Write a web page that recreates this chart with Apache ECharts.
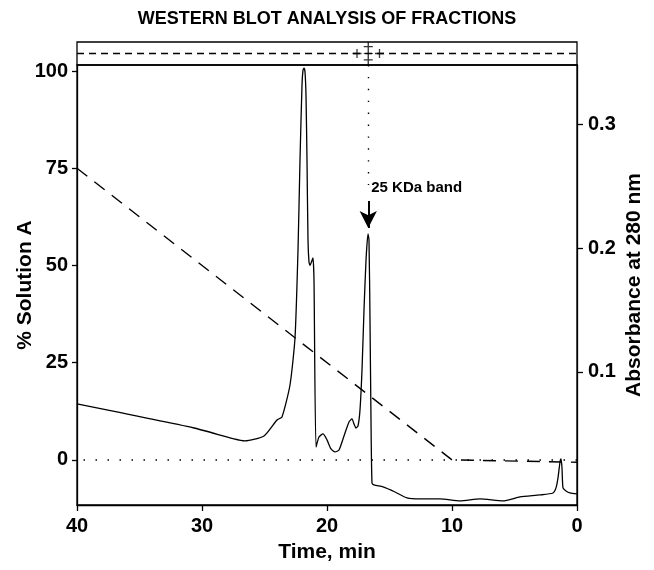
<!DOCTYPE html>
<html>
<head>
<meta charset="utf-8">
<script src="https://cdn.jsdelivr.net/npm/echarts@6/dist/echarts.min.js"></script>
<style>
  html, body { margin: 0; padding: 0; background: #fff; }
  #chart { width: 654px; height: 570px; }
</style>
</head>
<body>
<div id="chart"></div>
<script>
// absorbance trace (time in min, absorbance at 280 nm)
const absTime = [40, 30.64, 27.44, 26.56, 25.04, 24.0, 23.6, 22.96, 22.56, 22.32, 22.16, 22.0, 21.92, 21.84, 21.76, 21.68, 21.6, 21.52, 21.44, 21.36, 21.2, 21.12, 21.04, 20.88, 20.64, 20.32, 20.0, 19.68, 19.36, 19.04, 18.64, 18.24, 18.0, 17.84, 17.68, 17.52, 17.36, 17.2, 17.04, 16.88, 16.72, 16.64, 16.56, 16.48, 16.4, 16.24, 15.52, 14.56, 13.6, 12.56, 10.96, 9.36, 7.76, 5.92, 4.56, 2.96, 1.92, 1.68, 1.52, 1.36, 1.28, 1.2, 1.12, 0.88, 0.56, 0];
const absValue = [0.0742, 0.0548, 0.046, 0.0444, 0.0484, 0.0613, 0.0637, 0.0895, 0.1274, 0.198, 0.271, 0.3315, 0.3435, 0.345, 0.342, 0.323, 0.271, 0.2065, 0.1887, 0.186, 0.19, 0.192, 0.174, 0.0395, 0.0476, 0.05, 0.0452, 0.0379, 0.0355, 0.0371, 0.0484, 0.0597, 0.0621, 0.058, 0.0548, 0.0565, 0.0694, 0.1016, 0.15, 0.19, 0.2113, 0.2065, 0.142, 0.0613, 0.0105, 0.0089, 0.0073, 0.0032, -0.0016, -0.0024, -0.0024, -0.004, -0.0024, -0.004, -0.0008, 0.0008, 0.0024, 0.0065, 0.0145, 0.0274, 0.0298, 0.0226, 0.0065, 0.004, 0.0024, 0.0016];

// gradient (% Solution A)
const gradTime = [40, 10, 0];
const gradValue = [75, 0, -0.6];

// western blot strip
const positiveFractions = [17.6, 15.8];
const bandTime = 16.7;
const bandLabel = '25 KDa band';

// tick labels
const timeTicks = [0, 10, 20, 30, 40];
const solutionTicks = [0, 25, 50, 75, 100];
const absTicks = [0.1, 0.2, 0.3];

const FONT = "'Liberation Sans', Arial, Helvetica, sans-serif";
const black = '#000';

const chart = echarts.init(document.getElementById('chart'), null, {renderer: 'canvas'});

const tickText = {color: black, fontFamily: FONT, fontWeight: 'bold', fontSize: 20};
const nameText = {color: black, fontFamily: FONT, fontWeight: 'bold', fontSize: 21};

const option = {
    backgroundColor: '#fff',
    animation: false,
    title: {
        text: 'WESTERN BLOT ANALYSIS OF FRACTIONS',
        left: 'center',
        top: 5,
        textStyle: {color: black, fontFamily: FONT, fontWeight: 'bold', fontSize: 18}
    },
    grid: [
        {left: 77, right: 77, top: 65, bottom: 65, show: true, borderColor: black, borderWidth: 1.3, backgroundColor: 'transparent'},
        {left: 77, right: 77, top: 42, height: 23, show: true, borderColor: black, borderWidth: 1.3, backgroundColor: 'transparent'}
    ],
    xAxis: [
        {
            type: 'value', gridIndex: 0, min: 0, max: 40, interval: 10, inverse: true,
            name: 'Time, min', nameLocation: 'middle', nameGap: 37, nameMoveOverlap: false, nameTextStyle: nameText,
            axisLine: {show: true, onZero: false, lineStyle: {color: black, width: 1.3}},
            axisTick: {show: true, length: 6, lineStyle: {color: black, width: 1.3}},
            axisLabel: Object.assign({margin: 11, customValues: timeTicks}, tickText),
            splitLine: {show: false}
        },
        {
            type: 'value', gridIndex: 1, min: 0, max: 40, inverse: true, show: false
        }
    ],
    yAxis: [
        {
            type: 'value', gridIndex: 0, min: -11.6, max: 101.55, position: 'left',
            name: '% Solution A', nameLocation: 'middle', nameGap: 41, nameMoveOverlap: false, nameTextStyle: nameText,
            axisLine: {show: true, onZero: false, lineStyle: {color: black, width: 1.3}},
            axisTick: {show: true, length: 5, customValues: solutionTicks, lineStyle: {color: black, width: 1.3}},
            axisLabel: Object.assign({margin: 9, customValues: solutionTicks}, tickText),
            splitLine: {show: false}
        },
        {
            type: 'value', gridIndex: 0, min: -0.0073, max: 0.3476, position: 'right',
            name: 'Absorbance at 280 nm', nameLocation: 'middle', nameGap: 47, nameRotate: 90, nameMoveOverlap: false, nameTextStyle: nameText,
            axisLine: {show: true, onZero: false, lineStyle: {color: black, width: 1.3}},
            axisTick: {show: true, length: 6, customValues: absTicks, lineStyle: {color: black, width: 1.3}},
            axisLabel: Object.assign({margin: 11, customValues: absTicks, formatter: v => v.toFixed(1)}, tickText),
            splitLine: {show: false}
        },
        {
            type: 'value', gridIndex: 1, min: 0, max: 1, show: false
        }
    ],
    series: [
        {
            name: 'gradient',
            type: 'line',
            xAxisIndex: 0, yAxisIndex: 0,
            data: gradTime.map((t, i) => [t, gradValue[i]]),
            symbol: 'none',
            lineStyle: {color: black, width: 1.4, type: [13, 9]},
            markLine: {
                silent: true,
                symbol: ['none', 'none'],
                label: {show: false},
                lineStyle: {color: black, width: 1.5, type: [1.5, 10.5]},
                data: [{yAxis: 0}]
            },
            z: 3
        },
        {
            name: 'absorbance',
            type: 'line',
            xAxisIndex: 0, yAxisIndex: 1,
            data: absTime.map((t, i) => [t, absValue[i]]),
            symbol: 'none',
            smooth: 0.2,
            lineStyle: {color: black, width: 1.3},
            markLine: {
                silent: true,
                symbol: ['none', 'none'],
                label: {show: false},
                data: [
                    [
                        {coord: [bandTime, 0.3476], lineStyle: {color: black, width: 1.4, type: [1.4, 10.5]}},
                        {coord: [bandTime, 0.2508]}
                    ],
                    [
                        {coord: [bandTime, 0.2379], lineStyle: {color: black, width: 2, type: 'solid'}, symbol: 'none'},
                        {coord: [bandTime, 0.2161], symbol: 'arrow', symbolSize: [13, 17]}
                    ]
                ]
            },
            markPoint: {
                silent: true,
                data: [{
                    coord: [bandTime, 0.2484],
                    symbol: 'circle', symbolSize: 0,
                    label: {show: true, position: 'right', distance: 3, formatter: bandLabel,
                        color: black, fontFamily: FONT, fontWeight: 'bold', fontSize: 15}
                }]
            },
            z: 4
        },
        {
            name: 'blot negative',
            type: 'line',
            xAxisIndex: 1, yAxisIndex: 2,
            data: [[40, 0.5], [0, 0.5]],
            symbol: 'none',
            lineStyle: {color: black, width: 1.3, type: [7, 5]}
        },
        {
            name: 'blot positive',
            type: 'scatter',
            xAxisIndex: 1, yAxisIndex: 2,
            data: positiveFractions.map(t => [t, 0.5]),
            symbol: 'path://M0,4.3H10V5.7H0Z M4.3,0H5.7V10H4.3Z',
            symbolSize: 9,
            itemStyle: {color: black},
            z: 5
        },
        {
            name: 'blot band',
            type: 'scatter',
            xAxisIndex: 1, yAxisIndex: 2,
            data: [[bandTime, 0.5]],
            symbol: 'path://M4.4,0H5.6V23H4.4Z M1,4H9V5.2H1Z M1,10.9H9V12.1H1Z M1,17.3H9V18.5H1Z',
            symbolSize: [9, 23],
            symbolKeepAspect: false,
            itemStyle: {color: black},
            z: 5
        }
    ]
};

chart.setOption(option);
</script>
</body>
</html>
